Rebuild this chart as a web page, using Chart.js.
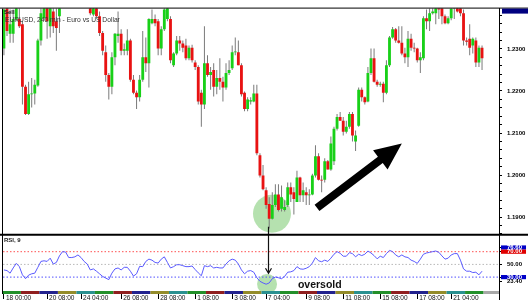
<!DOCTYPE html>
<html>
<head>
<meta charset="utf-8">
<script src="https://cdn.jsdelivr.net/npm/chart.js"></script>
<style>
  html, body { margin: 0; padding: 0; background: #fff; }
  canvas { display: block; }
</style>
</head>
<body>
<canvas id="chart" width="528" height="308"></canvas>
<script>
// EURUSD 4h candles, 18 May - 22 Jun (bar index 0..155)
const open = [1.2301,1.2406,1.2336,1.2336,1.2371,1.2371,1.2359,1.2210,1.2145,1.2192,
  1.2194,1.2213,1.2320,1.2373,1.2413,1.2354,1.2389,1.2366,1.2378,1.2413,
  1.2455,1.2525,1.2580,1.2545,1.2610,1.2520,1.2460,1.2480,1.2413,1.2382,
  1.2401,1.2378,1.2338,1.2292,1.2238,1.2210,1.2280,1.2331,1.2336,1.2296,
  1.2296,1.2320,1.2227,1.2196,1.2185,1.2227,1.2280,1.2266,1.2361,1.2371,
  1.2366,1.2301,1.2347,1.2371,1.2371,1.2261,1.2289,1.2320,1.2313,1.2308,
  1.2278,1.2303,1.2268,1.2257,1.2196,1.2168,1.2266,1.2238,1.2250,1.2210,
  1.2231,1.2222,1.2208,1.2243,1.2254,1.2292,1.2292,1.2261,1.2196,1.2157,
  1.2175,1.2175,1.2194,1.2047,1.1999,1.1964,1.1931,1.1896,1.1929,1.1954,
  1.1920,1.1917,1.1929,1.1971,1.1959,1.1936,1.1994,1.1952,1.1959,1.1952,
  1.1954,1.1999,1.2045,1.1989,1.1989,1.2033,1.2013,1.2033,1.2110,1.2138,
  1.2129,1.2103,1.2115,1.2145,1.2080,1.2117,1.2203,1.2185,1.2175,1.2243,
  1.2278,1.2222,1.2215,1.2217,1.2196,1.2261,1.2327,1.2347,1.2320,1.2315,
  1.2289,1.2280,1.2324,1.2303,1.2301,1.2273,1.2278,1.2373,1.2366,1.2385,
  1.2385,1.2401,1.2408,1.2378,1.2361,1.2373,1.2396,1.2413,1.2401,1.2385,
  1.2320,1.2324,1.2308,1.2320,1.2268,1.2303];
const high = [1.2413,1.2424,1.2394,1.2394,1.2420,1.2401,1.2366,1.2215,1.2222,1.2231,
  1.2227,1.2324,1.2406,1.2424,1.2424,1.2420,1.2413,1.2401,1.2429,1.2470,
  1.2540,1.2600,1.2610,1.2673,1.2625,1.2540,1.2500,1.2490,1.2424,1.2424,
  1.2413,1.2389,1.2343,1.2308,1.2243,1.2292,1.2338,1.2389,1.2347,1.2313,
  1.2347,1.2324,1.2238,1.2201,1.2238,1.2343,1.2327,1.2373,1.2394,1.2382,
  1.2371,1.2354,1.2401,1.2420,1.2378,1.2292,1.2331,1.2331,1.2320,1.2324,
  1.2308,1.2310,1.2273,1.2261,1.2203,1.2354,1.2285,1.2257,1.2266,1.2250,
  1.2278,1.2234,1.2266,1.2273,1.2308,1.2327,1.2320,1.2266,1.2199,1.2185,
  1.2185,1.2215,1.2215,1.2052,1.2024,1.1971,1.1947,1.1959,1.1978,1.1978,
  1.1975,1.1940,1.1982,1.1982,1.1971,1.2010,1.1996,1.1982,1.1971,1.1966,
  1.2003,1.2071,1.2052,1.1999,1.2040,1.2036,1.2092,1.2115,1.2145,1.2150,
  1.2138,1.2129,1.2150,1.2150,1.2106,1.2208,1.2208,1.2187,1.2257,1.2301,
  1.2301,1.2227,1.2222,1.2222,1.2273,1.2331,1.2352,1.2350,1.2354,1.2354,
  1.2303,1.2343,1.2336,1.2315,1.2303,1.2292,1.2378,1.2394,1.2401,1.2406,
  1.2420,1.2424,1.2424,1.2382,1.2378,1.2424,1.2436,1.2429,1.2420,1.2394,
  1.2327,1.2359,1.2327,1.2327,1.2308,1.2308];
const low = [1.2285,1.2331,1.2315,1.2315,1.2366,1.2350,1.2168,1.2143,1.2143,1.2161,
  1.2168,1.2210,1.2308,1.2368,1.2324,1.2327,1.2338,1.2296,1.2338,1.2405,
  1.2440,1.2510,1.2530,1.2540,1.2500,1.2440,1.2430,1.2410,1.2380,1.2378,
  1.2373,1.2331,1.2285,1.2222,1.2180,1.2192,1.2261,1.2315,1.2285,1.2285,
  1.2285,1.2222,1.2192,1.2157,1.2175,1.2222,1.2245,1.2208,1.2359,1.2354,
  1.2285,1.2285,1.2343,1.2366,1.2266,1.2257,1.2285,1.2296,1.2292,1.2273,
  1.2273,1.2268,1.2250,1.2168,1.2115,1.2157,1.2234,1.2203,1.2187,1.2192,
  1.2203,1.2175,1.2203,1.2238,1.2250,1.2285,1.2261,1.2187,1.2152,1.2152,
  1.2168,1.2173,1.2047,1.1994,1.1964,1.1920,1.1873,1.1894,1.1924,1.1913,
  1.1913,1.1913,1.1924,1.1936,1.1906,1.1936,1.1936,1.1936,1.1929,1.1929,
  1.1952,1.1994,1.1987,1.1959,1.1982,1.2013,1.2010,1.2024,1.2106,1.2129,
  1.2094,1.2099,1.2110,1.2080,1.2057,1.2115,1.2175,1.2168,1.2173,1.2238,
  1.2220,1.2210,1.2210,1.2173,1.2192,1.2257,1.2324,1.2315,1.2313,1.2285,
  1.2266,1.2257,1.2296,1.2292,1.2268,1.2243,1.2273,1.2347,1.2343,1.2382,
  1.2359,1.2371,1.2359,1.2359,1.2359,1.2368,1.2371,1.2387,1.2378,1.2308,
  1.2308,1.2285,1.2289,1.2257,1.2257,1.2250];
const close = [1.2394,1.2343,1.2359,1.2371,1.2408,1.2354,1.2210,1.2145,1.2192,1.2194,
  1.2215,1.2320,1.2385,1.2408,1.2366,1.2401,1.2354,1.2350,1.2413,1.2455,
  1.2525,1.2580,1.2545,1.2610,1.2520,1.2460,1.2480,1.2415,1.2385,1.2408,
  1.2378,1.2338,1.2296,1.2238,1.2210,1.2280,1.2336,1.2336,1.2296,1.2299,
  1.2320,1.2227,1.2196,1.2185,1.2227,1.2280,1.2266,1.2371,1.2371,1.2361,
  1.2301,1.2347,1.2394,1.2401,1.2273,1.2289,1.2320,1.2313,1.2303,1.2278,
  1.2303,1.2273,1.2257,1.2175,1.2168,1.2266,1.2238,1.2245,1.2210,1.2231,
  1.2222,1.2208,1.2243,1.2250,1.2292,1.2294,1.2261,1.2192,1.2157,1.2180,
  1.2178,1.2194,1.2052,1.1999,1.1966,1.1929,1.1896,1.1929,1.1954,1.1917,
  1.1947,1.1924,1.1971,1.1954,1.1943,1.1994,1.1952,1.1964,1.1952,1.1954,
  1.1999,1.2045,1.1989,1.1987,1.2033,1.2013,1.2075,1.2110,1.2138,1.2129,
  1.2103,1.2115,1.2145,1.2094,1.2094,1.2203,1.2185,1.2173,1.2243,1.2278,
  1.2222,1.2215,1.2217,1.2196,1.2261,1.2327,1.2347,1.2320,1.2315,1.2289,
  1.2280,1.2324,1.2303,1.2301,1.2273,1.2280,1.2373,1.2366,1.2385,1.2389,
  1.2406,1.2394,1.2378,1.2361,1.2373,1.2396,1.2420,1.2389,1.2385,1.2320,
  1.2317,1.2303,1.2324,1.2268,1.2303,1.2278];
// RSI(9)
const rsi = [41.3,40.3,36.2,44.4,51.6,46.5,33.6,27.5,33.1,35.2,
  36.2,45.4,54.7,55.7,54.7,59.8,50.6,53.1,63.4,70.1,
  69.5,60.8,60.8,61.9,64.9,60.8,54.7,50.6,41.3,42.9,
  39.3,35.2,31.1,28.5,26.0,36.2,42.9,44.4,41.3,45.4,
  45.4,39.3,31.6,35.2,47.0,46.5,54.7,58.3,56.7,53.1,
  52.1,58.3,61.9,53.1,44.4,46.5,49.5,49.5,48.0,46.5,
  46.5,47.5,41.9,36.7,32.1,48.0,46.5,48.0,44.4,45.4,
  44.4,44.4,50.6,55.7,58.3,56.7,50.6,41.3,35.2,39.3,
  40.3,37.7,29.0,23.4,20.8,18.8,20.8,27.5,30.1,29.0,
  27.5,31.1,37.7,38.3,40.3,46.5,42.9,42.4,43.9,46.5,
  52.1,60.8,55.7,54.2,56.7,54.7,59.8,66.0,70.1,67.5,
  62.9,62.9,68.5,67.0,61.9,66.0,63.9,66.0,71.1,68.0,
  63.9,58.8,62.9,60.8,67.0,72.1,70.1,64.9,61.9,64.9,
  61.9,60.8,56.7,54.7,51.6,58.3,66.0,68.0,69.0,70.1,
  71.1,69.0,63.4,58.3,59.8,64.9,67.0,67.0,56.7,42.9,
  39.3,39.3,37.2,37.7,33.6,39.3];
const rsiLevels = [70, 50, 30];
const rsiLevelColors = ['#ff5050', '#b8b8b8', '#5050ff'];
const rsiTicks = [76.6, 70, 50, 30, 23.4];

const tickIdx = [0, 14, 25, 38, 50, 62, 74, 85, 98, 110, 122, 134, 145];
const tickText = ['18 00:00', '20 08:00', '24 04:00', '26 08:00', '28 08:00', '1 08:00',
  '3 08:00', '7 04:00', '9 08:00', '11 08:00', '15 08:00', '17 08:00', '21 04:00'];

// annotation anchors in data terms
const lowMark = { bar: 86.9, price: 1.1908 };
const rsiMark = { bar: 85.3, value: 19 };
const pointer = { bar: 85.6, fromPrice: 1.1877, toRsi: 36 };
const trend = { fromBar: 101.5, fromPrice: 1.1922, toBar: 129, toPrice: 1.2075 };
const label = { bar: 95.3, value: 13.5, text: 'oversold' };

const X_MIN = -0.3, X_MAX = 160.5;
const dayColors = ['#2a9090', '#23902a', '#901f1f', '#22228e', '#948c2a']; // Mon..Fri

Chart.defaults.font.family = '"Liberation Sans", Arial, sans-serif';

const bodies = open.map((o, i) => {
  const lo = Math.min(o, close[i]), hi = Math.max(o, close[i]);
  const mid = (lo + hi) / 2;
  return { x: i, y: hi - lo < 0.0002 ? [mid - 0.0001, mid + 0.0001] : [lo, hi] };
});
const wicks = high.map((h, i) => ({ x: i, y: [low[i], h] }));
const bodyColors = close.map((c, i) => c >= open[i] ? '#18d018' : '#e81212');

const levelSets = rsiLevels.map((v, k) => ({
  type: 'line',
  data: [{ x: X_MIN, y: v }, { x: X_MAX, y: v }],
  yAxisID: 'rsi',
  borderColor: rsiLevelColors[k],
  borderWidth: 1,
  borderDash: [1.5, 2],
  pointRadius: 0
}));

function px(chart, bar) { return chart.scales.x.getPixelForValue(bar); }

const deco = {
  id: 'deco',
  beforeDraw(chart) {
    const ctx = chart.ctx;
    ctx.save();
    ctx.fillStyle = '#fff';
    ctx.fillRect(0, 0, chart.width, chart.height);
    ctx.restore();
  },
  beforeDatasetsDraw(chart) {
    const { ctx, chartArea: a, scales: { x, y, rsi: r } } = chart;
    ctx.save();
    ctx.fillStyle = 'rgba(120,200,110,0.55)';
    ctx.beginPath();
    ctx.arc(px(chart, lowMark.bar), y.getPixelForValue(lowMark.price), 19, 0, Math.PI * 2);
    ctx.fill();
    ctx.save();
    ctx.beginPath();
    ctx.rect(a.left, r.top, a.right - a.left, r.bottom - r.top - 3);
    ctx.clip();
    ctx.beginPath();
    ctx.arc(px(chart, rsiMark.bar), r.getPixelForValue(rsiMark.value), 10, 0, Math.PI * 2);
    ctx.fill();
    ctx.restore();
    // weekday strip at the foot of the RSI pane
    const days = Math.ceil(open.length / 6);
    for (let d = 0; d < days; d++) {
      const x0 = Math.max(a.left, x.getPixelForValue(d * 6 - 0.5));
      const x1 = x.getPixelForValue(d * 6 + 5.5);
      ctx.fillStyle = dayColors[(d + 1) % 5];
      ctx.fillRect(x0, r.bottom - 3, x1 - x0, 3);
    }
    ctx.fillStyle = '#a8a8a8';
    const xe = x.getPixelForValue(open.length - 0.5);
    ctx.fillRect(xe, r.bottom - 3, a.right - xe, 3);
    ctx.restore();
  },
  afterDatasetsDraw(chart) {
    const { ctx, scales: { y, rsi: r } } = chart;
    ctx.save();
    // pointer from the low down to the RSI pane
    const vx = Math.round(px(chart, pointer.bar)) + 0.5;
    const vy0 = y.getPixelForValue(pointer.fromPrice);
    const vy1 = r.getPixelForValue(pointer.toRsi);
    ctx.strokeStyle = '#111';
    ctx.lineWidth = 1.2;
    ctx.beginPath();
    ctx.moveTo(vx, vy0);
    ctx.lineTo(vx, vy1);
    ctx.moveTo(vx - 3, vy1 - 5);
    ctx.lineTo(vx, vy1);
    ctx.lineTo(vx + 3, vy1 - 5);
    ctx.stroke();

    // trend arrow
    const tx0 = px(chart, trend.fromBar), ty0 = y.getPixelForValue(trend.fromPrice);
    const tx1 = px(chart, trend.toBar), ty1 = y.getPixelForValue(trend.toPrice);
    const len = Math.hypot(tx1 - tx0, ty1 - ty0);
    const ux = (tx1 - tx0) / len, uy = (ty1 - ty0) / len;
    const nx = -uy, ny = ux;
    const w = 4, hl = 27, hw = 12;
    const bx = tx1 - ux * hl, by = ty1 - uy * hl;
    ctx.fillStyle = '#000';
    ctx.beginPath();
    ctx.moveTo(tx0 + nx * w, ty0 + ny * w);
    ctx.lineTo(bx + nx * w, by + ny * w);
    ctx.lineTo(bx + nx * hw, by + ny * hw);
    ctx.lineTo(tx1, ty1);
    ctx.lineTo(bx - nx * hw, by - ny * hw);
    ctx.lineTo(bx - nx * w, by - ny * w);
    ctx.lineTo(tx0 - nx * w, ty0 - ny * w);
    ctx.closePath();
    ctx.fill();

    ctx.font = 'bold 10.5px "Liberation Sans", Arial, sans-serif';
    ctx.fillStyle = '#111';
    ctx.textBaseline = 'alphabetic';
    ctx.fillText(label.text, px(chart, label.bar), r.getPixelForValue(label.value));
    ctx.restore();
  },
  afterDraw(chart) {
    const { ctx, chartArea: a, scales: { y, rsi: r } } = chart;
    ctx.save();
    ctx.strokeStyle = '#000';
    ctx.lineWidth = 1;
    ctx.beginPath();
    ctx.moveTo(0, a.top - 0.5); ctx.lineTo(chart.width, a.top - 0.5);
    ctx.moveTo(a.left - 0.5, a.top); ctx.lineTo(a.left - 0.5, r.bottom);
    ctx.moveTo(a.right + 0.5, a.top); ctx.lineTo(a.right + 0.5, r.bottom + 6);
    ctx.stroke();
    ctx.lineWidth = 2;
    ctx.beginPath();
    ctx.moveTo(0, y.bottom); ctx.lineTo(chart.width, y.bottom);
    ctx.stroke();

    ctx.fillStyle = '#000080';
    ctx.fillRect(a.right + 3, a.top, chart.width - a.right - 3, 5);

    ctx.fillStyle = '#222';
    ctx.font = 'bold 6px "Liberation Sans", Arial, sans-serif';
    ctx.textBaseline = 'top';
    ctx.fillText('Sell', a.left + 1, a.top + 1);
    ctx.fillText('RSI, 9', a.left + 1, r.top + 2);
    ctx.fillStyle = '#333';
    ctx.font = '6.7px "Liberation Sans", Arial, sans-serif';
    ctx.fillText('EURUSD, 240 min - Euro vs US Dollar', a.left + 2, a.top + 8);
    ctx.restore();
  }
};

new Chart(document.getElementById('chart'), {
  type: 'bar',
  data: {
    datasets: [
      {
        label: 'Body',
        data: bodies,
        backgroundColor: bodyColors,
        borderWidth: 0,
        grouped: false,
        categoryPercentage: 1,
        barPercentage: 0.92,
        yAxisID: 'y'
      },
      {
        label: 'Range',
        data: wicks,
        backgroundColor: '#7a7a7a',
        borderWidth: 0,
        grouped: false,
        maxBarThickness: 1,
        yAxisID: 'y'
      },
      {
        type: 'line',
        label: 'RSI, 9',
        data: rsi.map((v, i) => ({ x: i, y: v })),
        yAxisID: 'rsi',
        borderColor: '#5a5aff',
        borderWidth: 1,
        pointRadius: 0,
        tension: 0
      },
      ...levelSets
    ]
  },
  options: {
    responsive: false,
    animation: false,
    devicePixelRatio: 1,
    layout: { padding: { top: 2, left: 3, right: 0, bottom: 0 } },
    plugins: { legend: { display: false }, tooltip: { enabled: false } },
    scales: {
      x: {
        type: 'linear',
        position: 'bottom',
        min: X_MIN,
        max: X_MAX,
        offset: false,
        afterFit: s => { s.height = 14; },
        afterBuildTicks: s => { s.ticks = tickIdx.map(v => ({ value: v })); },
        grid: { drawOnChartArea: false, drawTicks: true, tickLength: 5, color: '#000', offset: false },
        border: { display: false },
        ticks: {
          autoSkip: false,
          maxRotation: 0,
          align: 'start',
          padding: -5,
          labelOffset: 2,
          color: '#111',
          font: { size: 6.5 },
          callback: (v, i) => tickText[i]
        }
      },
      y: {
        type: 'linear',
        position: 'right',
        stack: 'panes',
        stackWeight: 231.5,
        min: 1.18577,
        max: 1.2396,
        afterFit: s => { s.width = 29; },
        afterBuildTicks: s => {
          const t = [];
          for (let v = 1.186; v < 1.2396; v += 0.002) t.push({ value: +v.toFixed(4) });
          s.ticks = t;
        },
        grid: { drawOnChartArea: false, tickLength: 3, color: '#000' },
        border: { display: true, color: '#000' },
        ticks: {
          autoSkip: false,
          padding: 5,
          color: '#000',
          font: { size: 6, weight: 'bold' },
          callback: v => Math.abs(v * 100 - Math.round(v * 100)) < 1e-6 ? v.toFixed(4) : ''
        }
      },
      rsi: {
        type: 'linear',
        position: 'right',
        stack: 'panes',
        stackWeight: 60.5,
        min: 3.4,
        max: 96.5,
        afterFit: s => { s.width = 29; },
        afterBuildTicks: s => { s.ticks = rsiTicks.map(v => ({ value: v })); },
        grid: { drawOnChartArea: false, tickLength: 3, color: '#000' },
        border: { display: true, color: '#000' },
        ticks: {
          autoSkip: false,
          padding: 5,
          font: { size: 6, weight: 'bold' },
          showLabelBackdrop: true,
          backdropPadding: { top: -1.5, bottom: -1.5, left: 6, right: 4 },
          backdropColor: c => c.tick.value === 70 ? '#e00000' :
            (c.tick.value === 30 || c.tick.value === 76.6) ? '#0000c8' : 'rgba(0,0,0,0)',
          color: c => (c.tick.value === 70 || c.tick.value === 30 || c.tick.value === 76.6) ? '#fff' : '#000',
          callback: v => v.toFixed(2)
        }
      }
    }
  },
  plugins: [deco]
});
</script>
</body>
</html>
